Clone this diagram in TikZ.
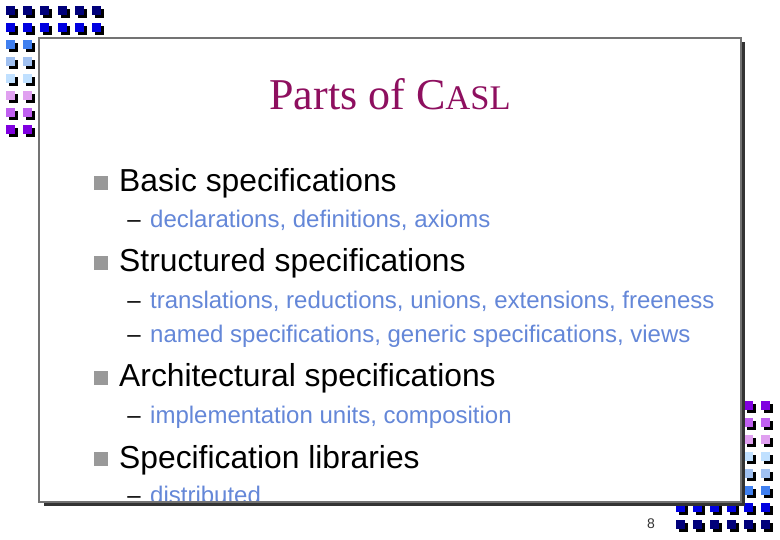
\documentclass[tikz,border=0pt]{standalone}
\usepackage{fontspec}
\setmainfont{Liberation Sans}
\newfontfamily\titlefont{Liberation Serif}
\usetikzlibrary{positioning}
\definecolor{titlecol}{HTML}{8E0F5F}
\definecolor{subcol}{HTML}{6487D8}
\definecolor{c1}{HTML}{00007A}
\definecolor{c2}{HTML}{0000E0}
\definecolor{c3}{HTML}{4080F0}
\definecolor{c4}{HTML}{A0C0F0}
\definecolor{c5}{HTML}{C0E0FF}
\definecolor{c6}{HTML}{E0A0F0}
\definecolor{c7}{HTML}{C060F0}
\definecolor{c8}{HTML}{8000E0}
\tikzstyle{head} = [inner sep=0pt, font=\fontsize{31.8}{34}\selectfont, anchor=west,
                    text height=22pt, text depth=6pt]
\tikzstyle{sub} = [inner sep=0pt, font=\fontsize{24}{28}\selectfont, anchor=west,
                   text=subcol, text height=18pt, text depth=5pt]
\tikzstyle{bull} = [rectangle, fill=black!40, minimum size=14pt, inner sep=0pt, yshift=1pt]
\tikzstyle{dot} = [rectangle, minimum size=9pt, inner sep=0pt]
\tikzstyle{dotshadow} = [dot, fill=black]

\begin{document}
\begin{tikzpicture}[x=1pt, y=-1pt, node distance=11pt]
\useasboundingbox (0,0) rectangle (780,540);
% squares, top left then bottom right
\foreach \col [count=\r] in {c1,c2,c3,c4,c5,c6,c7,c8} {
  \foreach \k in {1,...,6} {
    \ifnum\r<3 \def\keep{1}\else\ifnum\k<3 \def\keep{1}\else\def\keep{0}\fi\fi
    \ifnum\keep=1
      \node (a\r\k) [dotshadow] at (13.5+17.2*\k-17.2,13.5+17*\r-17) {};
      \node (b\r\k) [dot, fill=\col] at (10.5+17.2*\k-17.2,10.5+17*\r-17) {};
    \fi
  }
}
\foreach \col [count=\r] in {c8,c7,c6,c5,c4,c3,c2,c1} {
  \foreach \k in {1,...,6} {
    \ifnum\r>6 \def\keep{1}\else\ifnum\k>4 \def\keep{1}\else\def\keep{0}\fi\fi
    \ifnum\keep=1
      \node (d\r\k) [dotshadow] at (683.5+17*\k-17,408.5+17*\r-17) {};
      \node (e\r\k) [dot, fill=\col] at (680.5+17*\k-17,405.5+17*\r-17) {};
    \fi
  }
}
% slide
\fill[white] (39,38) rectangle (741,502);
\node (title) [inner sep=0pt, text=titlecol, font=\titlefont\fontsize{44}{48}\selectfont]
  at (390,94) {Parts of C{\fontsize{34.5}{38}\selectfont ASL}};
\node (h1) [head] at (119,184) {Basic specifications};
\node (h2) [head] at (119,264) {Structured specifications};
\node (h3) [head] at (119,379) {Architectural specifications};
\node (h4) [head] at (119,460) {Specification libraries};
\node (s1) [sub] at (150,221) {declarations, definitions, axioms};
\node (s2) [sub] at (150,302) {translations, reductions, unions, extensions, freeness};
\node (s3) [sub] at (150,336) {named specifications, generic specifications, views};
\node (s4) [sub] at (150,417) {implementation units, composition};
\node (s5) [sub] at (150,497) {distributed};
\foreach \n in {1,2,3,4}
  \node (p\n) [bull, left=11pt of h\n] {};
\foreach \n in {1,2,3,4,5}
  \node (m\n) [sub, text=black, left=9pt of s\n] {--};
% frame goes over the last line
\draw[line width=4pt, black!80] (44,504) -- (743,504) -- (743,42);
\draw[line width=2.5pt, black!55] (39,38) rectangle (741,502);
\node (page) [inner sep=0pt, font=\fontsize{14}{16}\selectfont, text=black!80] at (651,524) {8};
\end{tikzpicture}
\end{document}
